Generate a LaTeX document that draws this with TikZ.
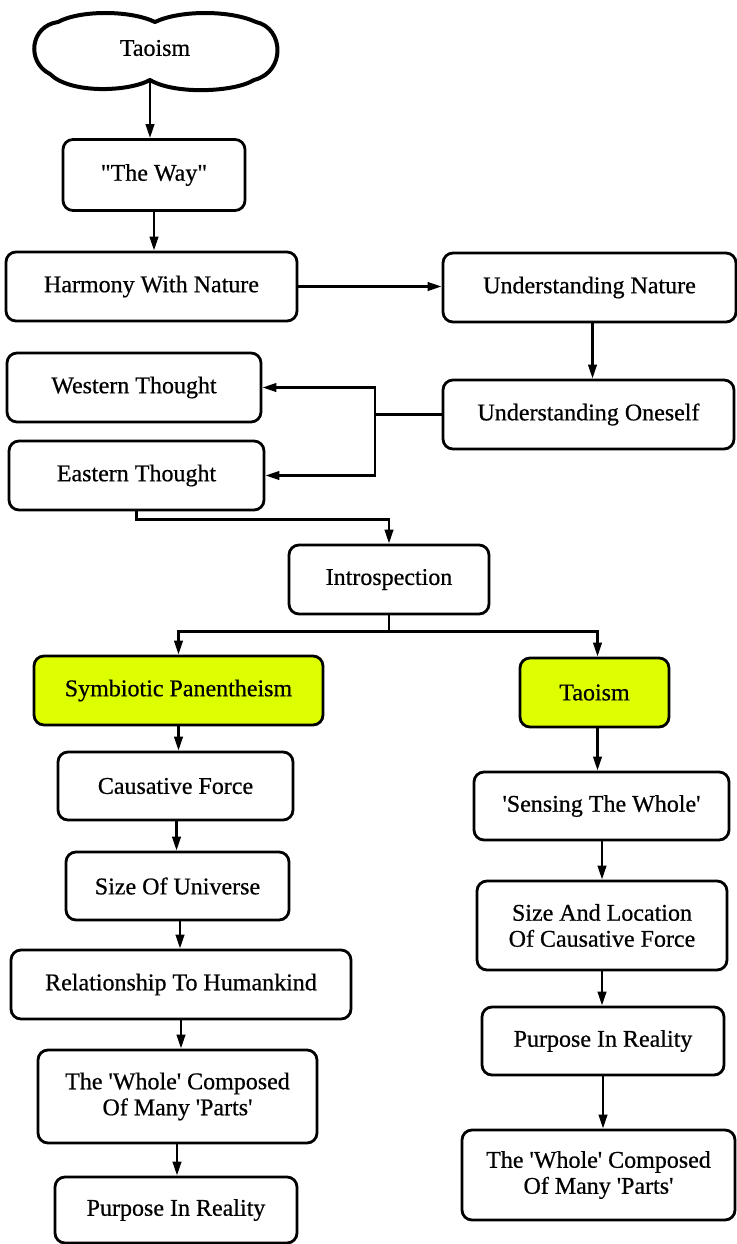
\documentclass[tikz,border=0pt]{standalone}
\usepackage{fontspec}
\setmainfont{Liberation Serif}[FakeBold=0.6]
\usetikzlibrary{arrows.meta}
\definecolor{hl}{RGB}{222,255,0}
\newcommand\sq{\textquotesingle}
\newcommand\dq{\textquotedbl}
\begin{document}
\begin{tikzpicture}[x=1pt,y=-1pt,
  box/.style={draw, rounded corners=10pt, line width=2.8pt, align=center, inner sep=0pt, font=\fontsize{24}{26}\selectfont},
  arr/.style={line width=2.5pt, -{Triangle[length=14pt,width=8.5pt]}},
  ln/.style={line width=2.5pt}]
\useasboundingbox (0,0) rectangle (736,1244);
% cloud
\draw[line width=4pt, line join=round] (155,22)
  .. controls (130,10) and (80,10) .. (58,22)
  .. controls (30,26) and (26,62) .. (50,74)
  .. controls (70,94) and (128,92) .. (150,80)
  .. controls (175,95) and (235,92) .. (254,80)
  .. controls (286,72) and (284,28) .. (256,22)
  .. controls (230,10) and (180,10) .. (155,22) -- cycle;
\node[font=\fontsize{24}{26}\selectfont] (cloud) at (155,48) {Taoism};
\coordinate (cdip) at (150,82);
% nodes
\node[box, minimum width=182pt, minimum height=71pt] (way) at (154,175) {\dq The Way\dq};
\node[box, minimum width=291pt, minimum height=69pt] (harmony) at (151.5,286.5) {Harmony With Nature};
\node[box, minimum width=293pt, minimum height=69pt] (unat) at (589.5,287.5) {Understanding Nature};
\node[box, minimum width=254pt, minimum height=69pt] (western) at (134,387.5) {Western Thought};
\node[box, minimum width=291pt, minimum height=69pt] (uself) at (588.5,414.5) {Understanding Oneself};
\node[box, minimum width=255pt, minimum height=69pt] (eastern) at (136.5,475.5) {Eastern Thought};
\node[box, minimum width=200pt, minimum height=69pt] (intro) at (389,579.5) {Introspection};
\node[box, fill=hl, minimum width=289pt, minimum height=69pt] (symb) at (178.5,690.5) {Symbiotic Panentheism};
\node[box, fill=hl, minimum width=149pt, minimum height=69pt] (tao) at (594.5,692.5) {Taoism};
\node[box, minimum width=235pt, minimum height=68pt] (caus) at (175.5,786) {Causative Force};
\node[box, minimum width=255pt, minimum height=68pt] (sens) at (601.5,806) {\sq Sensing The Whole\sq};
\node[box, minimum width=250pt, minimum height=89pt] (sizel) at (602,925.5) {Size And Location\\Of Causative Force};
\node[box, minimum width=223pt, minimum height=68pt] (sizeu) at (177.5,886) {Size Of Universe};
\node[box, minimum width=340pt, minimum height=69pt] (rel) at (181,984.5) {Relationship To Humankind};
\node[box, minimum width=242pt, minimum height=68pt] (purpR) at (603,1041) {Purpose In Reality};
\node[box, minimum width=279pt, minimum height=93pt] (wholeL) at (177.5,1096.5) {The \sq Whole\sq{} Composed\\Of Many \sq Parts\sq};
\node[box, minimum width=273pt, minimum height=90pt] (wholeR) at (598.5,1175) {The \sq Whole\sq{} Composed\\Of Many \sq Parts\sq};
\node[box, minimum width=242pt, minimum height=66pt] (purpL) at (176,1210) {Purpose In Reality};
% connectors
\draw[arr] (cdip) -- (cdip |- way.north);
\draw[arr] (way.south) -- (way.south |- harmony.north);
\draw[arr] (harmony.east) -- (harmony.east -| unat.west);
\draw[arr] ([xshift=3pt]unat.south) -- ([xshift=3pt]unat.south |- uself.north);
\coordinate (jn) at (375,414.5);
\draw[ln] (uself.west) -- (jn);
\draw[arr] (jn) |- (western.east);
\draw[arr] (jn) |- (eastern.east);
\draw[arr] (eastern.south) -- ++(0,8) -| (intro.north);
\draw[arr] (intro.south) -- ++(0,16) -| (symb.north);
\draw[arr] (intro.south) -- ++(0,16) -| ([xshift=3pt]tao.north);
\draw[arr] (symb.south) -- (symb.south |- caus.north);
\draw[arr] ([xshift=3pt]tao.south) -- ([xshift=3pt]tao.south |- sens.north);
\draw[arr] ([xshift=1pt]caus.south) -- ([xshift=1pt]caus.south |- sizeu.north);
\draw[arr] ([xshift=0.5pt]sens.south) -- ([xshift=0.5pt]sens.south |- sizel.north);
\draw[arr] ([xshift=2.5pt]sizeu.south) -- ([xshift=2.5pt]sizeu.south |- rel.north);
\draw[arr] (sizel.south) -- (sizel.south |- purpR.north);
\draw[arr] (rel.south) -- (rel.south |- wholeL.north);
\draw[arr] (purpR.south) -- (purpR.south |- wholeR.north);
\draw[arr] ([xshift=-0.5pt]wholeL.south) -- ([xshift=-0.5pt]wholeL.south |- purpL.north);
\end{tikzpicture}
\end{document}
